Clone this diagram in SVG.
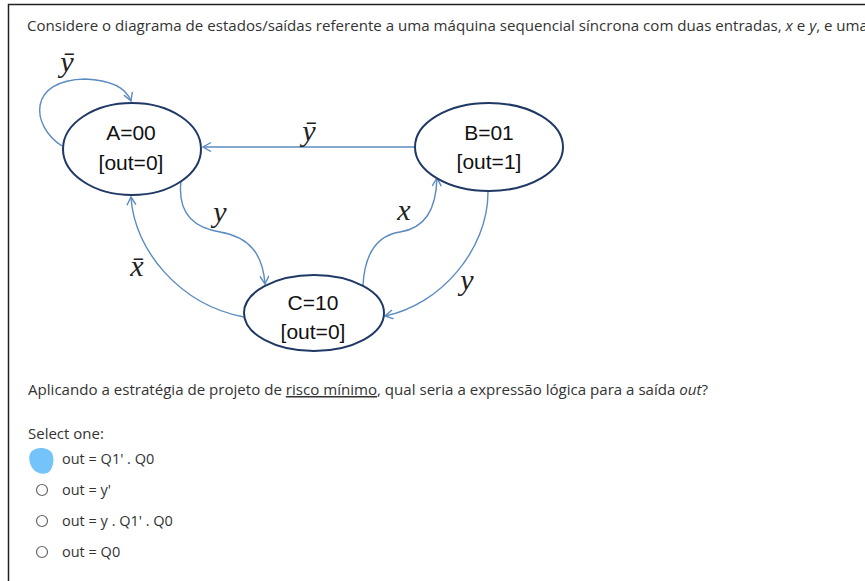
<svg xmlns="http://www.w3.org/2000/svg" width="865" height="581" viewBox="0 0 865 581">
<style>
.body{font-family:"Open Sans","Liberation Sans",sans-serif;font-size:15px;fill:#333}
.opt{font-family:"Open Sans","Liberation Sans",sans-serif;font-size:14.5px;fill:#333}
.st{fill:#fff;stroke:#1f3864;stroke-width:2}
.sl{font-family:"Liberation Sans",Arial,sans-serif;font-size:21px;fill:#111;text-anchor:middle}
.edge{fill:none;stroke:#5b8bc0;stroke-width:1.4}
.math{font-family:"Liberation Serif","DejaVu Serif",serif;font-style:italic;font-size:30px;fill:#222;text-anchor:middle}
.radio{fill:#fff;stroke:#666;stroke-width:1.2}
</style>
<defs>
<marker id="arr" markerUnits="userSpaceOnUse" markerWidth="12" markerHeight="12" refX="9" refY="5" orient="auto">
<path d="M1,0.5 L9,5 L1,9.5" fill="none" stroke="#5b8bc0" stroke-width="1.4"/>
</marker>
</defs>
<rect width="865" height="581" fill="#fff"/>
<path d="M8.5,581 V4.5 H865" fill="none" stroke="#222" stroke-width="1.5"/>
<text class="body" x="27" y="31" textLength="841" lengthAdjust="spacingAndGlyphs">Considere o diagrama de estados/saídas referente a uma máquina sequencial síncrona com duas entradas, <tspan font-style="italic">x</tspan> e <tspan font-style="italic">y</tspan>, e uma</text>

<g id="connectors">
<path class="edge" d="M62,146 C30,125 28,80 85,79 C110,80 126,88 131,101" marker-end="url(#arr)"/>
<path class="edge" d="M415,147 L203,147" marker-end="url(#arr)"/>
<path class="edge" d="M181,181 C177,215 195,228 220,232 C250,237 263,255 265,284" marker-end="url(#arr)"/>
<path class="edge" d="M244,317 C180,305 134,250 131,197" marker-end="url(#arr)"/>
<path class="edge" d="M363,285 C365,250 380,235 400,232 C425,228 436,210 437,178" marker-end="url(#arr)"/>
<path class="edge" d="M488,192 C488,250 440,305 385,316" marker-end="url(#arr)"/>
<text class="math" x="67" y="72">ȳ</text>
<text class="math" x="309" y="141">ȳ</text>
<text class="math" x="220" y="222">y</text>
<text class="math" x="137" y="276">x̄</text>
<text class="math" x="404" y="220">x</text>
<text class="math" x="467" y="290">y</text>
</g>

<g id="A">
<ellipse class="st" cx="132" cy="149" rx="69" ry="46"/>
<text class="sl" x="131" y="140">A=00</text>
<text class="sl" x="131" y="170">[out=0]</text>
</g>
<g id="B">
<ellipse class="st" cx="489" cy="147" rx="74" ry="44"/>
<text class="sl" x="489" y="140">B=01</text>
<text class="sl" x="489" y="169">[out=1]</text>
</g>
<g id="C">
<ellipse class="st" cx="314" cy="313" rx="70" ry="38"/>
<text class="sl" x="313" y="310">C=10</text>
<text class="sl" x="313" y="339">[out=0]</text>
</g>

<text class="body" x="28" y="395" textLength="680" lengthAdjust="spacingAndGlyphs">Aplicando a estratégia de projeto de <tspan text-decoration="underline">risco mínimo</tspan>, qual seria a expressão lógica para a saída <tspan font-style="italic">out</tspan>?</text>
<text class="body" x="28" y="439">Select one:</text>

<path d="M31,452 C36,446 48,447 52,453 C55,459 53,468 49,472 C45,475 37,474 33,469 C29,464 28,456 31,452 Z" fill="#74c4fa"/>
<text class="opt" x="62" y="464">out = Q1' . Q0</text>
<circle class="radio" cx="42" cy="490" r="5.5"/>
<text class="opt" x="62" y="495">out = y'</text>
<circle class="radio" cx="42" cy="521" r="5.5"/>
<text class="opt" x="62" y="526">out = y . Q1' . Q0</text>
<circle class="radio" cx="42" cy="552" r="5.5"/>
<text class="opt" x="62" y="557">out = Q0</text>
</svg>
